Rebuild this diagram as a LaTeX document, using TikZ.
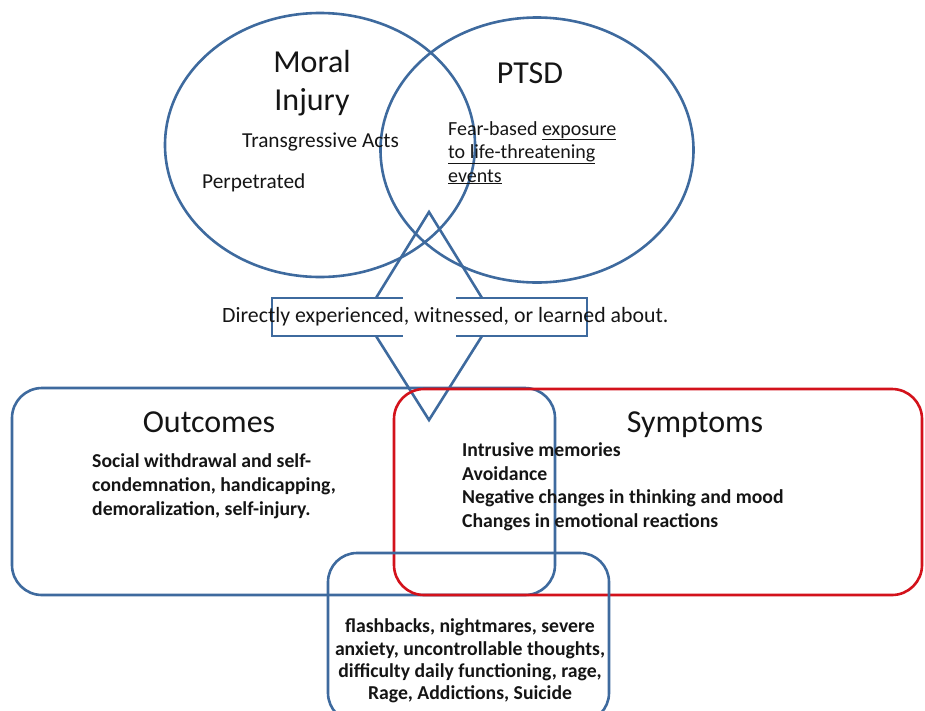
\documentclass[tikz,border=0pt]{standalone}
\usepackage{fontspec}
\setmainfont{Carlito}
\usetikzlibrary{shapes.geometric}
\definecolor{lineblue}{HTML}{3E6A9E}
\definecolor{linered}{HTML}{D3121B}
\definecolor{ink}{HTML}{151515}
\begin{document}
\begin{tikzpicture}[x=1pt,y=-1pt,
  outline/.style={draw=lineblue,line width=2.6pt},
  redline/.style={draw=linered,line width=2.6pt},
  ring/.style={outline,ellipse,inner sep=0pt},
  heading/.style={font=\fontsize{32}{38}\selectfont,text=ink,inner sep=0pt,anchor=base},
  note/.style={font=\fontsize{21.3}{25}\selectfont,text=ink,inner sep=0pt,anchor=base west},
  smallnote/.style={font=\fontsize{20}{24}\selectfont,text=ink,inner sep=0pt,anchor=base west},
  bnote/.style={font=\bfseries\fontsize{19.7}{23.5}\selectfont,text=ink,inner sep=0pt,anchor=base west},
  bcentre/.style={bnote,anchor=base}]
\useasboundingbox (0,0) rectangle (925,710);
\begin{scope}
\clip (0,0) rectangle (925,710);

% the two overlapping circles
\node[ring,minimum width=310pt,minimum height=264pt] (moral) at (320,145) {};
\node[ring,minimum width=313pt,minimum height=265pt] (ptsd) at (537,150) {};

% diamond, interrupted by the caption box
\coordinate (dtop) at (429,212);
\coordinate (dbot) at (429,420);
\draw[outline,line join=miter] (376,298) -- (dtop) -- (482,298);
\draw[outline,line join=miter] (376,336) -- (dbot) -- (482,336);

% caption box with openings where the diamond passes
\draw[outline] (403,298) -- (272,298) -- (272,336) -- (403,336);
\draw[outline] (456,298) -- (587,298) -- (587,336) -- (456,336);

% outcome, symptom and shared panels
\draw[outline,rounded corners=30pt] (12,388) rectangle (555,595);
\draw[redline,rounded corners=30pt] (394,389) rectangle (922,595);
\draw[outline,rounded corners=29pt] (328,553) rectangle (609,722);
\end{scope}

% circle texts
\node[heading] (moralA) at (312,72) {Moral};
\node[heading] (moralB) at (312,110) {Injury};
\node[heading] (ptsdT) at (530,83) {PTSD};
\node[note] (acts) at (242,147) {Transgressive Acts};
\node[note] (perp) at (202,188) {Perpetrated};
\node[smallnote] (fear1) at (448,135) {Fear-based \underline{exposure}};
\node[smallnote] (fear2) at (448,158) {\underline{to life-threatening}};
\node[smallnote] (fear3) at (448,182) {\underline{events}};

% caption
\node[note,font=\fontsize{21.8}{26}\selectfont] (caption) at (222,322) {Directly experienced, witnessed, or learned about.};

% panel headings
\node[heading] (outT) at (209,432) {Outcomes};
\node[heading] (symT) at (695,432) {Symptoms};

% outcome lines
\node[bnote] (o1) at (92,467) {Social withdrawal and self-};
\node[bnote] (o2) at (92,491) {condemnation, handicapping,};
\node[bnote] (o3) at (92,515) {demoralization, self-injury.};

% symptom lines
\node[bnote] (s1) at (462,456) {Intrusive memories};
\node[bnote] (s2) at (462,480) {Avoidance};
\node[bnote] (s3) at (462,503) {Negative changes in thinking and mood};
\node[bnote] (s4) at (462,527) {Changes in emotional reactions};

% shared panel lines
\node[bcentre] (b1) at (470,632) {flashbacks, nightmares, severe};
\node[bcentre] (b2) at (470,655) {anxiety, uncontrollable thoughts,};
\node[bcentre] (b3) at (470,677) {difficulty daily functioning, rage,};
\node[bcentre] (b4) at (470,699) {Rage, Addictions, Suicide};
\end{tikzpicture}
\end{document}
